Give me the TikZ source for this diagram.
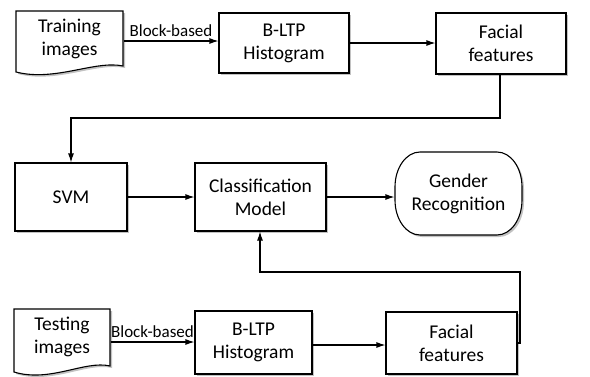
\documentclass[tikz,border=0pt]{standalone}
\usepackage{fontspec}
\setmainfont{Carlito}
\usetikzlibrary{arrows.meta,shadows,calc}
\begin{document}
\begin{tikzpicture}[x=1pt,y=-1pt,
  line width=1.1pt,
  shd/.style={drop shadow={shadow xshift=2pt,shadow yshift=-2pt,opacity=0.4,fill=black!60}},
  box/.style={draw,fill=white,shd,align=center,inner sep=0pt,
    font=\fontsize{19.5}{23}\selectfont},
  doc/.style={align=center,inner sep=0pt,font=\fontsize{19.5}{23}\selectfont},
  lbl/.style={font=\fontsize{17}{20}\selectfont,inner sep=1pt},
  arr/.style={-{Latex[length=9pt,width=6pt]}}
]
\useasboundingbox (0,0) rectangle (590,376);
% documents
\path[draw,fill=white,shd]
  (16,11) -- (123,11) -- (123,66)
  .. controls (95,60) and (55,82) .. (16,72) -- cycle;
\node[doc,minimum width=107pt,minimum height=55pt] (train) at (69.5,38.5) {Training\\images};
\path[draw,fill=white,shd]
  (14,309) -- (110,309) -- (110,366)
  .. controls (85,360) and (50,383) .. (14,372) -- cycle;
\node[doc,minimum width=96pt,minimum height=57pt] (test) at (62,337) {Testing\\images};
% boxes
\node[box,minimum width=130pt,minimum height=60pt] (bltp1) at (284,43) {B-LTP\\Histogram};
\node[box,minimum width=130pt,minimum height=61pt] (ff1) at (501,43.5) {Facial\\features};
\node[box,minimum width=112pt,minimum height=68pt] (svm) at (71,197) {SVM};
\node[box,minimum width=131pt,minimum height=68pt] (cls) at (260.5,197) {Classification\\Model};
\path[draw,fill=white,shd]
  (420,152) -- (497,152) .. controls (510.8,152) and (522,167.7) .. (522,187)
  -- (522,200) .. controls (522,219.3) and (510.8,235) .. (497,235)
  -- (420,235) .. controls (406.2,235) and (395,219.3) .. (395,200)
  -- (395,187) .. controls (395,167.7) and (406.2,152) .. (420,152) -- cycle;
\node[doc,minimum width=127pt,minimum height=83pt] (gen) at (458.5,193.5) {Gender\\Recognition};
\node[box,minimum width=117pt,minimum height=63pt] (bltp2) at (253.5,342.5) {B-LTP\\Histogram};
\node[box,minimum width=131pt,minimum height=62pt] (ff2) at (451.5,343) {Facial\\features};
% connectors
\coordinate (c1) at (500,118);
\coordinate (c2) at (71,118);
\coordinate (c3) at (520,343);
\coordinate (c4) at (520,272);
\coordinate (c5) at (260,272);
\draw[arr] (train.east |- 0,41) -- node[lbl,above=3pt] (l1) {Block-based} (bltp1.west |- 0,41);
\draw[arr] (bltp1.east |- 0,43) -- (ff1.west |- 0,43);
\draw[arr] (ff1.south -| c1) -- (c1) -- (c2) -- (svm.north -| c2);
\draw[arr] (svm.east) -- (cls.west);
\draw[arr] (cls.east) -- (cls.east -| gen.west);
\draw[arr] (test.east |- 0,342) -- node[lbl,above=3pt] (l2) {Block-based} (bltp2.west |- 0,342);
\draw[arr] (bltp2.east |- 0,345) -- (ff2.west |- 0,345);
\draw[arr] (ff2.east |- c3) -- (c3) -- (c4) -- (c5) -- (cls.south -| c5);
\end{tikzpicture}
\end{document}
